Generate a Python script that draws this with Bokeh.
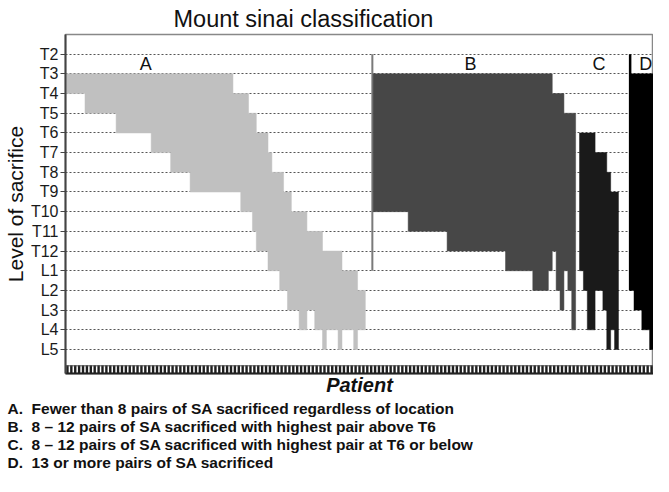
from bokeh.plotting import figure
from bokeh.models import Range1d, FixedTicker, Label, ColumnDataSource, Title
from bokeh.embed import file_html
from bokeh.resources import INLINE

# ---------------- data ----------------
levels = ["T2", "T3", "T4", "T5", "T6", "T7", "T8", "T9", "T10", "T11", "T12",
          "L1", "L2", "L3", "L4", "L5"]

groups = ["A", "B", "C", "D"]
group_colors = ["#c0c0c0", "#474747", "#1a1a1a", "#000000"]
# patients without a bar placed before each group
gap_before = [0, 2, 1, 3]

# runs of consecutive patients: number of patients, highest level, lowest level
A_count = [5, 8, 9, 5, 5, 11,
           2, 2, 1, 1, 3, 1, 2, 1, 1, 1, 2, 2, 2, 2, 1, 3, 1, 3, 1, 2]
A_top = ["T3", "T3", "T3", "T3", "T3", "T3",
         "T4", "T4", "T5", "T5", "T6", "T7", "T8", "T8", "T9", "T9", "T10", "T10",
         "T11", "T11", "T12", "T12", "T12", "L1", "L1", "L2"]
A_bottom = ["T4", "T5", "T6", "T7", "T8", "T9",
            "T9", "T10", "T10", "T11", "T12", "L1", "L1", "L2", "L2", "L3", "L3", "L4",
            "L3", "L4", "L5", "L4", "L5", "L4", "L5", "L4"]

B_count = [9, 10, 15, 7, 4, 1, 1, 1, 1, 1, 1, 1]
B_top = ["T3", "T3", "T3", "T3", "T3", "T3", "T4", "T4", "T4", "T5", "T5", "T5"]
B_bottom = ["T10", "T11", "T12", "L1", "L2", "L1", "T12", "L2", "L3", "L1", "L2", "L4"]

C_count = [1, 1, 2, 2, 1, 1, 1, 1]
C_top = ["T6", "T6", "T6", "T7", "T7", "T8", "T9", "T9"]
C_bottom = ["L1", "L2", "L4", "L2", "L3", "L5", "L4", "L5"]

D_count = [1, 2, 2, 1]
D_top = ["T3", "T3", "T3", "T3"]
D_bottom = ["L2", "L3", "L4", "L5"]

legend_letters = ["A.", "B.", "C.", "D."]
legend_texts = [
    "Fewer than 8 pairs of SA sacrificed regardless of location",
    "8 \u2013 12 pairs of SA sacrificed with highest pair above T6",
    "8 \u2013 12 pairs of SA sacrificed with highest pair at T6 or below",
    "13 or more pairs of SA sacrificed",
]

# ---------------- build one staircase outline per group ----------------
runs = [(A_count, A_top, A_bottom), (B_count, B_top, B_bottom),
        (C_count, C_top, C_bottom), (D_count, D_top, D_bottom)]
lvl = {name: i for i, name in enumerate(levels)}

xs_all, ys_all = [], []
group_start = []
pos = 0
for g, (cnts, tops, bots) in enumerate(runs):
    pos += gap_before[g]
    group_start.append(pos)
    spans = []
    for n, t, b in zip(cnts, tops, bots):
        spans.append((pos, pos + n, lvl[t], lvl[b]))
        pos += n
    xs, ys = [], []
    for l, r, t, b in spans:
        xs += [l, r]
        ys += [t, t]
    for l, r, t, b in reversed(spans):
        xs += [r, l]
        ys += [b, b]
    xs_all.append(xs)
    ys_all.append(ys)
N = pos

src = ColumnDataSource(dict(xs=xs_all, ys=ys_all, color=group_colors))

FONT = "Liberation Sans"
BAND = 0.42  # depth of the patient tick band below the last level, in level units

p = figure(width=653, height=476, x_range=Range1d(0, N),
           y_range=Range1d(len(levels) + BAND - 0.2, -1),
           output_backend="svg", toolbar_location=None,
           min_border_left=58, min_border_right=0, min_border_top=34, min_border_bottom=103,
           background_fill_color="white", border_fill_color="white")
p.outline_line_color = "#888888"
p.outline_line_width = 1.5

# title
p.title.text = "Mount sinai classification"
p.title.align = "left"
p.title.offset = 108
p.title.text_font = FONT
p.title.text_font_size = "23.5px"
p.title.text_font_style = "normal"
p.title.text_color = "#111111"
p.title.standoff = 6

# grid lines at each level
p.xgrid.visible = False
p.ygrid.ticker = FixedTicker(ticks=list(range(len(levels))))
p.ygrid.grid_line_color = "#555555"
p.ygrid.grid_line_dash = "2 2"
p.ygrid.grid_line_width = 1

# group divider lines
p.segment(x0=[group_start[1] - 0.2], x1=[group_start[1] - 0.2],
          y0=[lvl["T2"]], y1=[lvl["L1"]], line_color="#7a7a7a", line_width=2)
p.segment(x0=[group_start[3]], x1=[group_start[3]],
          y0=[lvl["T2"]], y1=[lvl["L2"]], line_color="#000000", line_width=2.5)

p.patches(xs="xs", ys="ys", source=src, fill_color="color", line_color="color",
          line_width=0.5)

# patient tick band along the bottom (one mark per patient)
pat_x = [i + 0.5 for i in range(N)]
band_top = len(levels) - 0.2
band_bot = len(levels) + BAND - 0.2
p.segment(x0=pat_x, x1=pat_x, y0=[band_top] * N, y1=[band_bot] * N,
          line_color="#1e1e1e", line_width=2.4)
p.segment(x0=[0], x1=[N], y0=[band_top + 0.03], y1=[band_top + 0.03],
          line_color="#555555", line_width=1)

# y axis
ya = p.yaxis[0]
ya.ticker = FixedTicker(ticks=list(range(len(levels))), minor_ticks=[])
ya.major_label_overrides = {i: name for i, name in enumerate(levels)}
ya.major_label_text_font = FONT
ya.major_label_text_font_size = "16px"
ya.major_label_text_color = "#1a1a1a"
ya.major_label_standoff = 2
ya.major_tick_out = 5
ya.major_tick_in = 0
ya.major_tick_line_color = "#444444"
ya.minor_tick_line_color = None
ya.axis_line_color = "#444444"
ya.axis_line_width = 2
ya.axis_label = "Level of sacrifice"
ya.axis_label_text_font = FONT
ya.axis_label_text_font_size = "21px"
ya.axis_label_text_font_style = "normal"
ya.axis_label_text_color = "#111111"
ya.axis_label_standoff = 1

# x axis: only the "Patient" title
xa = p.xaxis[0]
xa.ticker = FixedTicker(ticks=[], minor_ticks=[])
xa.major_tick_out = 0
xa.major_tick_in = 0
xa.major_label_standoff = 0
xa.major_tick_line_color = None
xa.minor_tick_line_color = None
xa.axis_line_color = "#222222"
xa.axis_line_width = 2
xa.axis_label = "Patient"
xa.axis_label_text_font = FONT
xa.axis_label_text_font_size = "20px"
xa.axis_label_text_font_style = "bold italic"
xa.axis_label_text_color = "#111111"
xa.axis_label_standoff = 0

# group labels inside the frame
for gname, gx in zip(groups, [20.6, 104.0, 137.0, 149.0]):
    p.add_layout(Label(x=gx, y=0.48, text=gname, text_font=FONT, text_font_size="18px",
                       text_align="center", text_baseline="middle", text_color="#111111"))

# legend lines below the chart
for letter, txt in zip(legend_letters, legend_texts):
    t = Title(text=letter + "\u00a0\u00a0" + txt, align="left", offset=-58,
              text_font=FONT, text_font_size="15.5px", text_font_style="bold",
              text_color="#111111", standoff=-1)
    p.add_layout(t, "below")

open("out.html", "w").write(file_html(p, INLINE))
